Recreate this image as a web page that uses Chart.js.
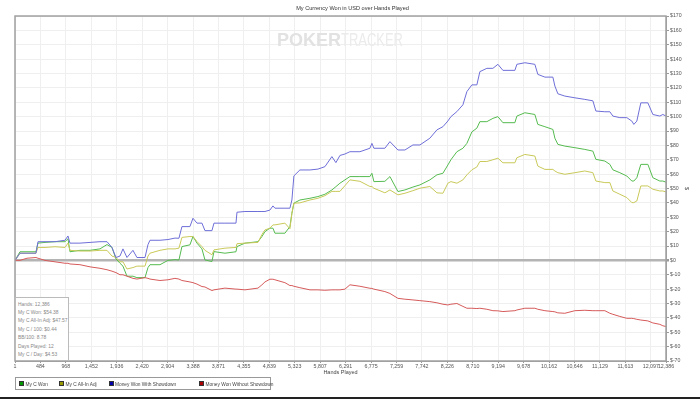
<!DOCTYPE html>
<html>
<head>
<meta charset="utf-8">
<script src="https://cdn.jsdelivr.net/npm/chart.js@4.4.0/dist/chart.umd.min.js"></script>
<style>
  body { margin: 0; background: #fff; font-family: "Liberation Sans", Arial, sans-serif; }
  #wrap { position: relative; width: 700px; height: 399px; overflow: hidden; }
  #wm { position: absolute; left: 277px; top: 30px; font-size: 18px; white-space: nowrap; }
  #wm b { color: #e2e2e2; }
  #wm span { color: #ebebeb; display: inline-block; transform: scaleX(0.72); transform-origin: left; font-weight: normal; }
  #stats { position: absolute; left: 15px; top: 297px; width: 54px; height: 63px; border: 1px solid #bbb; border-bottom: none; background: #fff; font-size: 4.9px; color: #888; padding: 2.5px 0 0 2px; box-sizing: border-box; line-height: 8.4px; white-space: nowrap; }
  #legend { position: absolute; left: 15px; top: 377px; width: 256px; height: 13px; border: 1px solid #999; box-sizing: border-box; font-size: 4.8px; color: #444; }
  #legend div { position: absolute; top: 3px; white-space: nowrap; }
  #legend i { display: inline-block; width: 3px; height: 3px; border: 0.5px solid #333; margin-right: 1.5px; vertical-align: -0.5px; }
  #bar { position: absolute; left: 0; right: 0; bottom: 0; height: 2px; background: #222; }
</style>
</head>
<body>
<div id="wrap">
  <canvas id="chart" width="700" height="399"></canvas>
  <div id="wm"><b>POKER</b><span>TRACKER</span></div>
  <div id="stats"></div>
  <div id="legend"></div>
  <div id="bar"></div>
</div>
<script>
var chartTitle = 'My Currency Won in USD over Hands Played';
var seriesNames = ['My C Won', 'My C All-In Adj', 'Money Won With Showdown', 'Money Won Without Showdown'];
var xTicks = [1, 484, 968, 1452, 1936, 2420, 2904, 3388, 3871, 4355, 4839, 5323, 5807, 6291, 6775, 7259, 7742, 8226, 8710, 9194, 9678, 10162, 10646, 11129, 11613, 12097, 12386];
var statLines = ['Hands: 12,386', 'My C Won: $54.38', 'My C All-In Adj: $47.57', 'My C / 100: $0.44', 'BB/100: 8.78', 'Days Played: 12', 'My C / Day: $4.53'];

var hands = [1, 96, 229, 400, 438, 572, 762, 952, 1009, 1047, 1237, 1428, 1618, 1751, 1846, 1922, 1998, 2055, 2131, 2245,
  2321, 2474, 2531, 2569, 2759, 2911, 3044, 3120, 3177, 3329, 3387, 3463, 3558, 3615, 3748, 3786, 3995, 4205, 4224, 4376,
  4623, 4699, 4756, 4851, 4908, 4946, 5136, 5231, 5269, 5307, 5421, 5612, 5764, 5897, 6030, 6106, 6183, 6278, 6373, 6563,
  6753, 6791, 6829, 7038, 7134, 7286, 7419, 7571, 7704, 7894, 8028, 8142, 8237, 8294, 8408, 8522, 8598, 8693, 8788, 8845,
  8978, 9093, 9188, 9283, 9511, 9549, 9701, 9891, 9948, 10082, 10234, 10272, 10329, 10462, 10652, 10842, 10995, 11052, 11223, 11318,
  11375, 11508, 11641, 11736, 11774, 11831, 11907, 12041, 12136, 12269, 12326, 12386];

var myCWon = [0, 6, 6, 6, 12, 12.5, 13, 13, 15, 6, 7, 7, 8, 11, 9, 1, -2, -4, -11, -11,
  -12, -12, -5, -3, -3, 0, 0.5, 0.3, 9.6, 10.8, 16.6, 12, 8, 0.3, -0.8, 6.1, 5, 6, 9.6, 12,
  13, 16.6, 20, 22.4, 22.4, 18.9, 18.9, 23.5, 32.8, 39.8, 42, 43.2, 44.4, 46, 49, 51.3, 53.7, 56, 58.3, 58.3,
  58.3, 60.6, 54.8, 55, 58.3, 47.9, 49, 51, 52.5, 56, 59.5, 60.6, 66.4, 70, 75.6, 78, 81.4, 89.4, 92, 96.5,
  96.5, 98.8, 100, 95.8, 95.8, 100.4, 102.7, 101.5, 94.6, 93, 91.1, 85, 80.7, 79.5, 78.4, 77.2, 76, 70.3, 69.1, 66.8,
  63, 61, 58.7, 55.2, 55.2, 57.5, 66.8, 66.8, 57.5, 55.2, 55.2, 54.38];

var allInAdj = [0, 5, 5, 5, 9, 9, 9.5, 9, 12, 7, 6.5, 6.5, 7, 7, 3, 2, -1, -1, -6, -5,
  -4, -4, 3, 5, 7, 8, 8, 8.5, 16, 16.6, 16.6, 13.1, 9.6, 7, 3.9, 7.3, 8.5, 9, 11.6, 12,
  12.5, 18, 21.2, 22.4, 24.7, 24.7, 25.9, 22, 32.8, 39.8, 40, 42, 43.2, 45, 48, 48, 48, 52, 56, 55,
  51.4, 51.4, 50.2, 47, 49, 45.6, 46.7, 48.5, 50.2, 51.4, 47, 46.7, 53.7, 54.8, 53.7, 56, 59.5, 63, 65, 68.8,
  68.8, 70, 71.1, 67.9, 67.9, 71.4, 73.7, 72.6, 65.6, 63.3, 63.3, 62.2, 61, 59.9, 61, 62.2, 61, 55.2, 54.1, 54.1,
  48.3, 46, 43.7, 40.2, 40.2, 41.3, 51.8, 51.8, 49.5, 48.3, 48.3, 47.57];

var wonShowdown = [0, 5, 5, 5, 13, 13, 13, 14, 17, 12, 12, 12.5, 13, 13, 9, 2, 3, 8, 2, 7,
  2, 2, 11, 14, 14, 14.5, 15.5, 15.4, 23.5, 23.5, 29.3, 25.9, 25.9, 20.7, 20.7, 25.9, 25.9, 25.9, 33.5, 34,
  34, 34, 34, 35, 37.9, 36.3, 36.3, 36.3, 42, 58.8, 62.9, 62.9, 63.5, 65.2, 72.2, 68, 73, 74, 75.6, 75.6,
  78, 81.4, 78, 78, 82.6, 76.8, 76.8, 80.3, 80.3, 85, 90.8, 93, 97, 100, 103.5, 108.2, 117.4, 122.1, 122.1, 131.3,
  133.6, 133.6, 136.4, 132.2, 132.2, 136.4, 137.5, 136.4, 129.4, 127.5, 127.5, 121.3, 115.9, 114.3, 113.1, 112, 111, 103.9, 103.4, 103.4,
  100.4, 99.3, 99.3, 96.9, 94.6, 96.9, 109.6, 109.6, 101.5, 100.4, 101.5, 100.4];

var wonNoShowdown = [0, 0, 1.5, 2, 1.5, 0, -1, -2, -2, -2.5, -3, -4.5, -5.5, -6.5, -7.5, -8.5, -10, -10, -11, -12.5,
  -13, -12, -12.5, -13, -14, -13.5, -12.5, -13, -14, -15, -15.5, -16.5, -18.2, -18.5, -21, -20.5, -19.3, -20, -20, -20.5,
  -19.3, -17, -15, -13.1, -13.1, -13.5, -15.5, -17.5, -17.5, -18, -19, -20.5, -20.5, -20.8, -20.5, -20.5, -20.5, -20, -17, -18,
  -19.4, -19.5, -20, -21.7, -23, -26.4, -27, -27.5, -28, -28.7, -29.5, -30.5, -31, -30.5, -30, -32, -33.3, -33.3, -33.5, -33.3,
  -34, -35, -35.1, -35.6, -35, -34.5, -33.3, -33.3, -34, -35, -35.6, -35.8, -36.5, -36.8, -35, -34.7, -35, -35, -35, -36.8,
  -37.5, -39, -40.3, -40.3, -40.5, -41, -41.5, -42.1, -43.5, -44.5, -45.5, -46];

var lineColors = ['#55bb4f', '#c9c95a', '#6e6ed8', '#d65a5a'];
var boxColors = ['#009900', '#999900', '#0000aa', '#aa0000'];

function pts(vals) {
  return vals.map(function(v, i) { return { x: hands[i], y: v }; });
}

document.getElementById('stats').innerHTML = statLines.join('<br>');
var legendHtml = '';
var legendLeft = [3, 43, 92.5, 183];
seriesNames.forEach(function(n, i) {
  legendHtml += '<div style="left:' + legendLeft[i] + 'px"><i style="background:' + boxColors[i] + '"></i>' + n + '</div>';
});
document.getElementById('legend').innerHTML = legendHtml;

var frame = {
  id: 'frame',
  afterDatasetsDraw: function(chart) {
    var a = chart.chartArea, c = chart.ctx;
    c.save();
    c.strokeStyle = '#a0a0a0';
    c.lineWidth = 1.5;
    c.strokeRect(a.left, a.top, a.right - a.left, a.bottom - a.top);
    c.restore();
  }
};

var chart = new Chart(document.getElementById('chart'), {
  type: 'line',
  data: {
    datasets: [myCWon, allInAdj, wonShowdown, wonNoShowdown].map(function(s, i) {
      return {
        label: seriesNames[i],
        data: pts(s),
        borderColor: lineColors[i],
        borderWidth: 1,
        pointRadius: 0,
        tension: 0,
        fill: false
      };
    }).reverse()
  },
  options: {
    responsive: false,
    animation: false,
    devicePixelRatio: 1,
    layout: { padding: { left: 15, right: 10, top: 0, bottom: 23 } },
    plugins: {
      legend: { display: false },
      tooltip: { enabled: false },
      title: {
        display: true,
        text: chartTitle,
        color: '#333',
        font: { family: 'Liberation Sans', size: 5.6, weight: 'normal' },
        padding: { top: 5, bottom: 4.3 }
      }
    },
    scales: {
      x: {
        type: 'linear',
        min: 1,
        max: 12386,
        afterBuildTicks: function(s) { s.ticks = xTicks.map(function(v) { return { value: v }; }); },
        afterFit: function(s) { s.height = 15; },
        ticks: {
          autoSkip: false,
          maxRotation: 0,
          padding: 0,
          color: '#555',
          font: { family: 'Liberation Sans', size: 5.3 },
          callback: function(v) { return v.toLocaleString('en-US'); }
        },
        grid: { color: '#efefef', tickLength: 2, tickColor: '#999' },
        border: { color: '#a0a0a0' },
        title: { display: true, text: 'Hands Played', color: '#444', padding: 0, font: { family: 'Liberation Sans', size: 5.5 } }
      },
      y: {
        position: 'right',
        min: -70,
        max: 170,
        afterFit: function(s) { s.width = 24; },
        ticks: {
          stepSize: 10,
          padding: 1,
          color: '#555',
          font: { family: 'Liberation Sans', size: 5.2 },
          callback: function(v) { return '$' + v; }
        },
        grid: {
          color: function(c) { return c.tick && c.tick.value === 0 ? '#b4b4b4' : '#efefef'; },
          lineWidth: function(c) { return c.tick && c.tick.value === 0 ? 2.5 : 1; },
          tickLength: 3,
          tickColor: '#999'
        },
        border: { color: '#a0a0a0' },
        title: { display: true, text: '$', color: '#444', padding: 0, font: { family: 'Liberation Sans', size: 5.5 } }
      }
    }
  },
  plugins: [frame]
});
</script>
</body>
</html>
